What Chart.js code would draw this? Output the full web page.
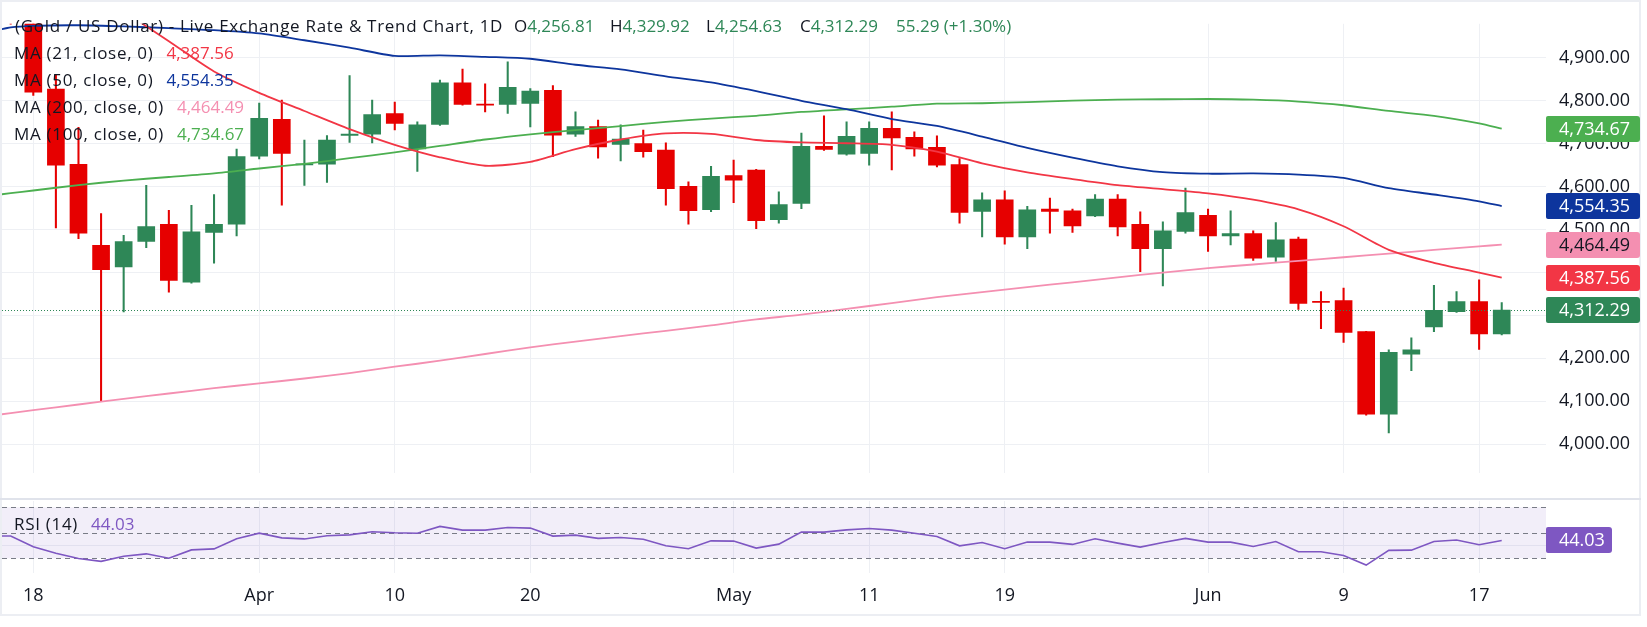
<!DOCTYPE html>
<html>
<head>
<meta charset="utf-8">
<script src="https://cdn.jsdelivr.net/npm/chart.js@4.4.1/dist/chart.umd.min.js"></script>
<style>
  html, body { margin: 0; padding: 0; background: #ffffff; }
  body { width: 1647px; height: 627px; position: relative; overflow: hidden; font-family: "Open Sans", sans-serif; color: #131722; }
  .frame { position: absolute; left: 0; top: 0; width: 1641px; height: 616px; box-sizing: border-box; border: 2px solid #eceef3; }
  .sep { position: absolute; left: 0; top: 498px; width: 1641px; height: 2px; background: #e0e3eb; }
  canvas { position: absolute; left: 0; }
  #price { top: 0; }
  #rsi { top: 500px; }
  .lg { position: absolute; white-space: pre; font-size: 17px; line-height: 22px; }
  .lg .lbl { letter-spacing: 0.7px; }
  .lg .gap { margin-left: 13px; }
</style>
</head>
<body>
<div class="frame"></div>
<div class="sep"></div>
<canvas id="price" width="1647" height="497"></canvas>
<canvas id="rsi" width="1647" height="113"></canvas>
<div id="legend"></div>
<script>
// trading days shown (Mar 16 is just off the left edge)
const dates = [
  '2026-03-16', '2026-03-17', '2026-03-18', '2026-03-19', '2026-03-20', '2026-03-23', '2026-03-24', '2026-03-25',
  '2026-03-26', '2026-03-27', '2026-03-30', '2026-03-31',
  '2026-04-01', '2026-04-02', '2026-04-06', '2026-04-07', '2026-04-08', '2026-04-09', '2026-04-10', '2026-04-13',
  '2026-04-14', '2026-04-15', '2026-04-16', '2026-04-17', '2026-04-20', '2026-04-21', '2026-04-22', '2026-04-23',
  '2026-04-24', '2026-04-27', '2026-04-28', '2026-04-29', '2026-04-30',
  '2026-05-01', '2026-05-04', '2026-05-05', '2026-05-06', '2026-05-07', '2026-05-08', '2026-05-11', '2026-05-12',
  '2026-05-13', '2026-05-14', '2026-05-15', '2026-05-18', '2026-05-19', '2026-05-20', '2026-05-21', '2026-05-22',
  '2026-05-25', '2026-05-26', '2026-05-27', '2026-05-28', '2026-05-29',
  '2026-06-01', '2026-06-02', '2026-06-03', '2026-06-04', '2026-06-05', '2026-06-08', '2026-06-09', '2026-06-10',
  '2026-06-11', '2026-06-12', '2026-06-15', '2026-06-16', '2026-06-17', '2026-06-18'
]

const opens = [null,
  5060, 4995, 4826.6, 4651.8, 4463.0, 4413.0, 4472.1, 4511.7, 4377.0, 4493.3, 4512.3,
  4670.8, 4756.2, 4650.5, 4651.8, 4719.0, 4721.6, 4769.6, 4687.8, 4744.8, 4841.4, 4792.0, 4791.3, 4793.5, 4823.9,
  4721.6, 4739.3, 4698.3, 4699.8, 4685.0, 4600.4, 4546.1,
  4625.2, 4638.5, 4522.9, 4560.9, 4693.5, 4675.1, 4677.2, 4735.7, 4714.6, 4691.3, 4651.2, 4541.9, 4568.7, 4482.7,
  4547.6, 4543.4, 4531.3, 4570.8, 4511.7, 4455.2, 4495.4,
  4532.8, 4484.8, 4490.5, 4435.6, 4477.8, 4332.5, 4334.1, 4262.2, 4069.8, 4209.4, 4272.8, 4308.7, 4332.0, 4256.81
]
const highs = [null,
  5085, 5005, 4859.8, 4737.9, 4537.0, 4486.3, 4602.6, 4544.8, 4556.0, 4581.4, 4687.1,
  4794.3, 4801.3, 4708.3, 4718.8, 4858.4, 4801.3, 4796.4, 4750.5, 4847.8, 4873.2, 4839.3, 4890.1, 4828.1, 4835.1,
  4773.8, 4754.8, 4743.6, 4731.5, 4701.9, 4611.0, 4647.0,
  4661.8, 4640.0, 4587.8, 4724.5, 4764.7, 4750.5, 4750.5, 4773.8, 4727.3, 4718.2, 4665.3, 4585.0, 4589.9, 4553.9,
  4573.0, 4547.6, 4581.4, 4581.4, 4541.3, 4518.0, 4596.2,
  4547.6, 4543.4, 4496.9, 4515.9, 4482.1, 4355.2, 4363.7, 4263.0, 4219.9, 4247.4, 4370.0, 4355.2, 4382.7, 4329.92
]
const lows = [null,
  4978, 4812, 4503.8, 4478.5, 4100.0, 4308.0, 4457.3, 4353.7, 4375.0, 4421.4, 4484.8,
  4664.5, 4556.7, 4602.6, 4609.5, 4702.6, 4701.3, 4731.5, 4634.9, 4742.0, 4789.2, 4773.8, 4770.2, 4738.5, 4669.6,
  4716.7, 4666.0, 4659.6, 4668.1, 4556.7, 4512.3, 4541.3,
  4562.4, 4501.7, 4514.4, 4548.2, 4684.0, 4673.0, 4649.7, 4638.5, 4670.8, 4645.5, 4514.4, 4482.7, 4465.8, 4455.2,
  4491.2, 4493.3, 4530.0, 4484.8, 4401.7, 4368.5, 4491.2,
  4448.9, 4463.7, 4427.7, 4425.6, 4313.6, 4269.2, 4236.8, 4067.8, 4026.1, 4171.3, 4262.2, 4306.6, 4220.6, 4254.63
]
const closes = [null,
  4995, 4819.7, 4649.7, 4491.2, 4406.6, 4471.5, 4506.8, 4381.2, 4494.7, 4511.7, 4669.6,
  4759.0, 4677.2, 4653.0, 4708.3, 4722.0, 4767.5, 4747.0, 4743.6, 4841.4, 4791.3, 4789.5, 4830.9, 4822.4, 4719.5,
  4739.3, 4692.0, 4710.4, 4681.4, 4594.7, 4544.0, 4623.7,
  4614.6, 4520.7, 4558.2, 4693.5, 4686.5, 4716.7, 4735.7, 4713.1, 4687.8, 4649.7, 4539.8, 4568.7, 4482.7, 4545.5,
  4541.9, 4508.1, 4570.8, 4506.0, 4455.2, 4496.9, 4539.1,
  4484.8, 4490.5, 4433.4, 4475.7, 4327.7, 4330.0, 4260.1, 4069.8, 4213.6, 4219.9, 4311.5, 4332.0, 4257.0, 4312.29
]

const maDays = [0, 1, 2, 4, 6, 8, 10, 12, 14, 16, 18, 20, 22, 24, 26, 28, 30, 32, 34, 36, 38, 40, 42, 44, 46, 48,
  50, 52, 54, 56, 58, 60, 62, 64, 66, 67]
const ma21 = [null, null, null, null, 5008, 4938.3, 4867.9, 4818.2, 4775.9, 4733.6, 4697.1, 4668.1, 4648.4, 4657.5,
  4687.1, 4709.5, 4723.7, 4722.4, 4708.3, 4702.6, 4700.7, 4697.1, 4681.2, 4654.1, 4633, 4617.4, 4603.4, 4593.9,
  4584, 4569.2, 4546.7, 4507.4, 4452.5, 4422.4, 4399.6, 4387.56]
const ma50 = [4959, 4970.4, 4974.2, 4975.5, 4972.9, 4968.7, 4964.1, 4956.4, 4940.6, 4923.3, 4904.2, 4905.5, 4901.9,
  4897.5, 4883.5, 4872.7, 4856.7, 4842.3, 4822, 4799.6, 4780.1, 4757.1, 4741, 4716.3, 4689.7, 4667, 4646.9, 4633.4,
  4629.8, 4630.5, 4627.9, 4620.1, 4596.2, 4581.4, 4565.6, 4554.35]
const ma200 = [4065.6, 4072.2, 4079.1, 4092.4, 4105.3, 4118, 4130.5, 4141.5, 4152.9, 4165.6, 4180.4, 4194.3, 4210,
  4225.2, 4238.9, 4251.8, 4263.9, 4276.8, 4290.5, 4301.5, 4315, 4328.6, 4342.5, 4354.2, 4365.8, 4377, 4388.4, 4399.6,
  4410, 4418.4, 4426.9, 4435.3, 4443.6, 4452.3, 4460.7, 4464.49]
const ma100 = [4578, 4584.4, 4590.7, 4603.4, 4613.8, 4622.2, 4630.7, 4641.9, 4652.9, 4666, 4679.5, 4694.5, 4709.5,
  4721.6, 4731.3, 4740.8, 4750.3, 4758.2, 4764.7, 4773.6, 4779.7, 4785.8, 4792.8, 4793.9, 4796.6, 4800.2, 4802.3,
  4803.2, 4803.8, 4802.1, 4797.7, 4789.2, 4775.9, 4764.5, 4747, 4734.67]

const rsi = [47.6, 47.5, 39.0, 34.0, 29.8, 27.6, 31.6, 33.5, 30.1, 36.6, 37.4, 45.4,
  49.7, 46.0, 45.2, 47.7, 48.4, 50.8, 50.0, 49.7, 55.0, 52.1, 52.1, 54.2, 53.7, 47.4, 48.2, 45.6, 46.3, 45.0, 39.8,
  37.5, 43.7,
  43.5, 38.0, 41.1, 50.5, 50.5, 52.3, 53.4, 52.1, 49.7, 47.1, 39.8, 42.4, 37.5, 42.7, 42.7, 40.9, 45.3, 41.9, 38.8,
  42.4, 45.6,
  42.7, 42.7, 39.3, 43.2, 35.1, 35.1, 32.2, 24.7, 36.2, 36.4, 43.2, 44.3, 40.6, 44.03]

const priceTicks = [4000, 4100, 4200, 4300, 4400, 4500, 4600, 4700, 4800, 4900]
const rsiLevels = [70, 50, 30]
const tickDates = ['2026-03-18', '2026-04-01', '2026-04-10', '2026-04-20', '2026-05-01', '2026-05-11', '2026-05-19',
  '2026-06-01', '2026-06-09', '2026-06-17']
const tickText = ['18', 'Apr', '10', '20', 'May', '11', '19', 'Jun', '9', '17']

const maNames = ['MA (21, close, 0)', 'MA (50, close, 0)', 'MA (200, close, 0)', 'MA (100, close, 0)']
const maSeries = [ma21, ma50, ma200, ma100]

// ---- styles
const UP = '#2e8757'
const DOWN = '#e60000'
const TXT = '#131722'
const GRID = '#eef0f4'
const PURPLE = '#7e57c2'
const maColors = ['#f23645', '#0d359d', '#f48fb1', '#4caf50']
const maText = ['#ffffff', '#ffffff', '#131722', '#ffffff']
const FONT = '"Open Sans", sans-serif'
const X_MIN = 0.6144
const X_MAX = 68.96

Chart.defaults.font.family = FONT

const fmt = v => v.toLocaleString('en-US', { minimumFractionDigits: 2, maximumFractionDigits: 2 })
const tickIdx = tickDates.map(d => dates.indexOf(d))
const last = dates.length - 1

const candleIdx = dates.map((d, n) => n).filter(n => opens[n] !== null)
const candleColors = candleIdx.map(n => closes[n] >= opens[n] ? UP : DOWN)

function xScale(showLabels) {
  return {
    type: 'linear',
    min: X_MIN,
    max: X_MAX,
    offset: false,
    afterBuildTicks: s => { s.ticks = tickIdx.map(v => ({ value: v })) },
    afterFit: s => { s.height = showLabels ? 40 : 0 },
    ticks: {
      display: showLabels,
      autoSkip: false,
      maxRotation: 0,
      padding: 12,
      color: TXT,
      font: { size: 18 },
      callback: (v, i) => tickText[i]
    },
    grid: { color: GRID, drawTicks: false, offset: false },
    border: { display: false }
  }
}

function drawTag(ctx, y, text, bg, fg, w) {
  ctx.save()
  ctx.fillStyle = bg
  ctx.beginPath()
  ctx.roundRect(1546, Math.round(y) - 13, w, 26, [2, 3, 3, 2])
  ctx.fill()
  ctx.fillStyle = fg
  ctx.font = '18px ' + FONT
  ctx.textBaseline = 'middle'
  ctx.textAlign = 'left'
  ctx.fillText(text, 1559, Math.round(y) + 1)
  ctx.restore()
}

const priceExtras = {
  id: 'priceExtras',
  afterDatasetsDraw(chart) {
    const { ctx, chartArea, scales } = chart
    const y = Math.round(scales.y.getPixelForValue(closes[last])) + 0.5
    ctx.save()
    ctx.strokeStyle = UP
    ctx.lineWidth = 1
    ctx.setLineDash([1, 2])
    ctx.beginPath()
    ctx.moveTo(chartArea.left, y)
    ctx.lineTo(chartArea.right, y)
    ctx.stroke()
    ctx.restore()
  },
  afterDraw(chart) {
    const { ctx, scales } = chart
    maSeries.forEach((s, k) => {
      const v = s[s.length - 1]
      drawTag(ctx, scales.y.getPixelForValue(v), fmt(v), maColors[k], maText[k], 94)
    })
    const c = closes[last]
    drawTag(ctx, scales.y.getPixelForValue(c), fmt(c), c >= opens[last] ? UP : DOWN, '#ffffff', 94)
  }
}

const maDatasets = maSeries.map((s, k) => ({
  type: 'line',
  data: maDays.map((n, j) => ({ x: n, y: s[j] })),
  borderColor: maColors[k],
  borderWidth: 1.8,
  pointRadius: 0,
  tension: 0.25,
  spanGaps: true,
  order: 0
}))

new Chart(document.getElementById('price'), {
  type: 'bar',
  data: {
    datasets: [
      ...maDatasets,
      {
        data: candleIdx.map(n => ({ x: n, y: [opens[n], closes[n]] })),
        backgroundColor: candleColors,
        barThickness: 17,
        grouped: false,
        clip: 0,
        order: 1
      },
      {
        data: candleIdx.map(n => ({ x: n, y: [lows[n], highs[n]] })),
        backgroundColor: candleColors,
        barThickness: 1.4,
        grouped: false,
        clip: 0,
        order: 2
      }
    ]
  },
  options: {
    responsive: false,
    animation: false,
    devicePixelRatio: 1,
    events: [],
    layout: { padding: { left: 2, top: 2, right: 0, bottom: 0 } },
    plugins: { legend: { display: false }, tooltip: { enabled: false } },
    scales: {
      x: xScale(false),
      y: {
        position: 'right',
        min: 3932.4,
        max: 4978.9,
        afterBuildTicks: s => { s.ticks = priceTicks.map(v => ({ value: v })) },
        afterFit: s => { s.width = 101 },
        ticks: { padding: 13, color: TXT, font: { size: 18 }, callback: v => fmt(v) },
        grid: { color: GRID, drawTicks: false },
        border: { display: false }
      }
    }
  },
  plugins: [priceExtras]
})

const rsiExtras = {
  id: 'rsiExtras',
  beforeDatasetsDraw(chart) {
    const { ctx, chartArea, scales } = chart
    const yTop = scales.y.getPixelForValue(rsiLevels[0])
    const yBot = scales.y.getPixelForValue(rsiLevels[2])
    ctx.save()
    ctx.fillStyle = 'rgba(126, 87, 194, 0.1)'
    ctx.fillRect(chartArea.left, yTop, chartArea.right - chartArea.left, yBot - yTop)
    ctx.strokeStyle = '#787b86'
    ctx.lineWidth = 1
    ctx.setLineDash([5, 4])
    rsiLevels.forEach(l => {
      const y = Math.round(scales.y.getPixelForValue(l)) + 0.5
      ctx.beginPath()
      ctx.moveTo(chartArea.left, y)
      ctx.lineTo(chartArea.right, y)
      ctx.stroke()
    })
    ctx.restore()
  },
  afterDraw(chart) {
    const v = rsi[rsi.length - 1]
    drawTag(chart.ctx, chart.scales.y.getPixelForValue(v), v.toFixed(2), PURPLE, '#ffffff', 66)
  }
}

new Chart(document.getElementById('rsi'), {
  type: 'line',
  data: {
    datasets: [{
      data: rsi.map((v, n) => ({ x: n, y: v })),
      borderColor: PURPLE,
      borderWidth: 1.6,
      pointRadius: 0
    }]
  },
  options: {
    responsive: false,
    animation: false,
    devicePixelRatio: 1,
    events: [],
    layout: { padding: { left: 2, top: 1, right: 0, bottom: 0 } },
    plugins: { legend: { display: false }, tooltip: { enabled: false } },
    scales: {
      x: xScale(true),
      y: {
        position: 'right',
        min: 18.47,
        max: 74.94,
        afterBuildTicks: s => { s.ticks = [{ value: 40 }] },
        afterFit: s => { s.width = 101 },
        ticks: { display: false },
        grid: { color: GRID, drawTicks: false },
        border: { display: false }
      }
    }
  },
  plugins: [rsiExtras]
})

// ---- legend text
const legend = document.getElementById('legend')

function addLine(x, yc, parts) {
  const el = document.createElement('div')
  el.className = 'lg'
  el.style.left = x + 'px'
  el.style.top = (yc - 11) + 'px'
  parts.forEach(p => {
    const s = document.createElement('span')
    s.textContent = p.t
    s.style.color = p.c || TXT
    if (p.cls) s.className = p.cls
    el.appendChild(s)
  })
  legend.appendChild(el)
}

const change = closes[last] - closes[last - 1]
const pct = change / closes[last - 1] * 100
const chColor = change >= 0 ? UP : DOWN

addLine(15, 26, [{ t: '(Gold / US Dollar) - Live Exchange Rate & Trend Chart, 1D', cls: 'lbl' }])
addLine(514, 26, [{ t: 'O' }, { t: fmt(opens[last]), c: chColor }])
addLine(610, 26, [{ t: 'H' }, { t: fmt(highs[last]), c: chColor }])
addLine(706, 26, [{ t: 'L' }, { t: fmt(lows[last]), c: chColor }])
addLine(800, 26, [{ t: 'C' }, { t: fmt(closes[last]), c: chColor }])
addLine(896, 26, [{ t: fmt(change) + ' (' + (pct >= 0 ? '+' : '') + pct.toFixed(2) + '%)', c: chColor }])

maNames.forEach((name, k) => {
  const s = maSeries[k]
  addLine(14, 53 + k * 27, [{ t: name, cls: 'lbl' }, { t: fmt(s[s.length - 1]), c: maColors[k], cls: 'gap' }])
})

addLine(14, 524, [{ t: 'RSI (14)', cls: 'lbl' }, { t: rsi[rsi.length - 1].toFixed(2), c: PURPLE, cls: 'gap' }])
</script>
</body>
</html>
